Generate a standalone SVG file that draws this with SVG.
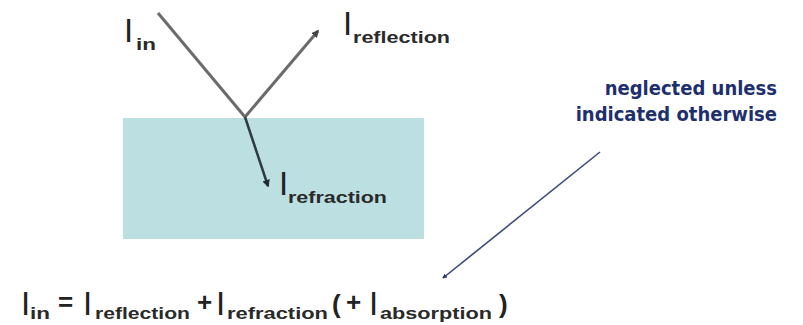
<svg xmlns="http://www.w3.org/2000/svg" width="803" height="325" viewBox="0 0 803 325">
<style>
.big{font-family:"Liberation Sans",Arial,sans-serif;font-size:33px;fill:#222}
.sub{font-family:"Liberation Sans",Arial,sans-serif;font-size:17px;font-weight:bold;fill:#2a2a2a}
.op{font-family:"Liberation Sans",Arial,sans-serif;font-size:26px;font-weight:bold;fill:#222}
.note{font-family:"DejaVu Sans Condensed","Liberation Sans Narrow",sans-serif;font-size:20px;font-weight:bold;fill:#1e2f6e}
.ray{fill:none;stroke:#6b6b6b;stroke-width:3}
.ref{fill:none;stroke:#2f3a40;stroke-width:2.5}
.ptr{fill:none;stroke:#3b4a7a;stroke-width:1.6}
</style>
<defs>
<marker id="ah" viewBox="0 0 10 10" refX="8" refY="5" markerWidth="2.5" markerHeight="2.5" orient="auto"><path d="M0,0 L10,5 L0,10 z" fill="#444"/></marker>
<marker id="ah2" viewBox="0 0 10 10" refX="8" refY="5" markerWidth="3" markerHeight="3" orient="auto"><path d="M0,0 L10,5 L0,10 z" fill="#1f2a38"/></marker>
<marker id="ah3" viewBox="0 0 10 10" refX="8" refY="5" markerWidth="3" markerHeight="3" orient="auto"><path d="M0,0 L10,5 L0,10 z" fill="#2b3a6e"/></marker>
</defs>
<g id="medium"><rect x="123" y="118" width="301" height="121" fill="#bcdfe2"/></g>
<g id="connectors">
<line class="ray" x1="158" y1="13" x2="245" y2="117"/>
<line class="ray" x1="245" y1="117" x2="318" y2="31" marker-end="url(#ah)"/>
<line class="ref" x1="245" y1="117" x2="268" y2="186" marker-end="url(#ah2)"/>
<line class="ptr" x1="600" y1="152" x2="443" y2="278" marker-end="url(#ah3)"/>
</g>
<g id="label-in"><text class="big" x="124" y="42">I</text><text class="sub" x="136" y="50" textLength="20" lengthAdjust="spacingAndGlyphs">in</text></g>
<g id="label-reflection"><text class="big" x="343" y="35">I</text><text class="sub" x="353" y="43" textLength="97" lengthAdjust="spacingAndGlyphs">reflection</text></g>
<g id="label-refraction"><text class="big" x="279" y="195">I</text><text class="sub" x="288" y="203" textLength="99" lengthAdjust="spacingAndGlyphs">refraction</text></g>
<g id="note"><text class="note" x="777" y="95" text-anchor="end">neglected unless</text><text class="note" x="777" y="121" text-anchor="end">indicated otherwise</text></g>
<g id="formula">
<text class="big" x="21" y="315">I</text><text class="sub" x="30" y="319" textLength="20" lengthAdjust="spacingAndGlyphs">in</text>
<text class="op" x="58" y="311">=</text>
<text class="big" x="83" y="315">I</text><text class="sub" x="95" y="319" textLength="95" lengthAdjust="spacingAndGlyphs">reflection</text>
<text class="op" x="197" y="311">+</text>
<text class="big" x="216" y="315">I</text><text class="sub" x="227" y="319" textLength="101" lengthAdjust="spacingAndGlyphs">refraction</text>
<text class="op" x="332" y="313">(</text>
<text class="op" x="346" y="311">+</text>
<text class="big" x="369" y="315">I</text><text class="sub" x="380" y="319" textLength="112" lengthAdjust="spacingAndGlyphs">absorption</text>
<text class="op" x="499" y="313">)</text>
</g>
</svg>
